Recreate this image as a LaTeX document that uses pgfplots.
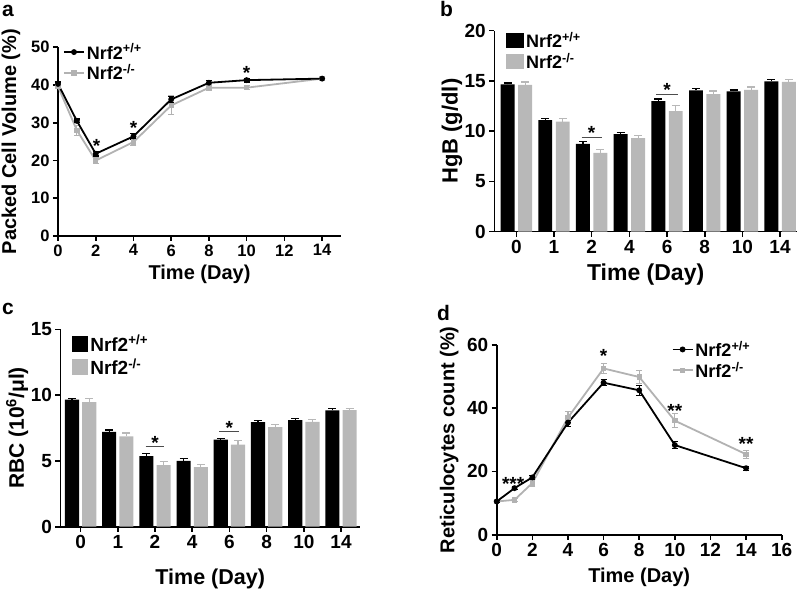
\documentclass[border=0pt]{standalone}
\usepackage{fontspec}
\setmainfont{Liberation Sans}
\usepackage{pgfplots}
\pgfplotsset{compat=1.18}
\definecolor{lgray}{RGB}{178,178,178}
\definecolor{bgray}{RGB}{184,184,184}
\newcommand{\fs}[1]{\fontsize{#1}{#1}\selectfont\bfseries}
\tikzset{star/.style={anchor=base, font=\fs{19}, inner sep=0pt}}
\pgfplotsset{
  gp/.style={
    scale only axis, anchor=south west, clip=false,
    axis x line=bottom, axis y line=left,
    axis line style={-, line width=1.6pt},
    tick align=outside, major tick length=5pt,
    tick style={line width=1.6pt, black},
    /pgf/number format/assume math mode=true,
    legend style={draw=none, fill=none, inner sep=0pt, outer sep=0pt, anchor=north west},
    legend cell align=left,
  },
  lineleg/.style={legend image code/.code={\draw[##1, mark repeat=2, mark phase=2] plot coordinates {(0pt,0pt) (10pt,0pt) (20pt,0pt)};}},
  barleg/.style={legend image code/.code={\fill[##1, draw=none] (0pt,-7.5pt) rectangle (18pt,7.5pt);}},
  blk/.style={black, line width=1.8pt, mark=*, mark size=2pt,
    error bars/.cd, y dir=both, y explicit, error bar style={line width=1.1pt, black},
    error mark options={rotate=90, line width=1.1pt, mark size=3pt, black}},
  gry/.style={lgray, line width=1.8pt, mark=square*, mark size=1.8pt,
    error bars/.cd, y dir=both, y explicit, error bar style={line width=1.1pt, lgray},
    error mark options={rotate=90, line width=1.1pt, mark size=3pt, lgray}},
  bblk/.style={fill=black, draw=none, bar shift=-0.232,
    error bars/.cd, y dir=plus, y explicit, error bar style={line width=1.1pt, black},
    error mark options={rotate=90, line width=1.1pt, mark size=4pt, black}},
  bgry/.style={fill=bgray, draw=none, bar shift=0.232,
    error bars/.cd, y dir=plus, y explicit, error bar style={line width=1.1pt, bgray},
    error mark options={rotate=90, line width=1.1pt, mark size=4pt, bgray}},
}
\begin{document}
\begin{tikzpicture}
\useasboundingbox (0,0) rectangle (800pt,592pt);
% panel letters
\node[anchor=base west, inner sep=0pt, font=\fs{21}] at (2pt,575.3pt) {a};
\node[anchor=base west, inner sep=0pt, font=\fs{21}] at (440pt,575pt) {b};
\node[anchor=base west, inner sep=0pt, font=\fs{21}] at (2pt,277.7pt) {c};
\node[anchor=base west, inner sep=0pt, font=\fs{21}] at (437pt,271pt) {d};

% ---------------- a ----------------
\begin{axis}[gp, at={(58pt,356pt)}, width=283pt, height=188.7pt,
  xmin=0, xmax=15, ymin=0, ymax=50,
  xtick={0,2,...,14}, ytick={0,10,...,50},
  ticklabel style={font=\fs{16.5}},
  xlabel={Time (Day)}, ylabel={Packed Cell Volume (\%)},
  label style={font=\fs{20}},
  xlabel style={at={(axis description cs:0.5,-0.201)}, anchor=center},
  ylabel style={at={(axis description cs:-0.166,0.5)}, anchor=center},
  lineleg, reverse legend,
  legend style={at={(axis description cs:0.018,1.03)}, font=\fs{18}, row sep=0pt},
]
\addplot[gry] coordinates {(0,39.6) +- (0,0.6) (1,28.0) +- (0,1.3) (2,20.0) +- (0,0.8) (4,24.9) +- (0,0.9) (6,34.6) +- (0,2.5) (8,39.3) +- (0,0.8) (10,39.3) +- (0,0.6) (14,41.7) +- (0,0.4)};
\addlegendentry{Nrf2\textsuperscript{-/-}}
\addplot[blk] coordinates {(0,40.3) +- (0,0.5) (1,30.5) +- (0,0.5) (2,21.8) +- (0,0.6) (4,26.4) +- (0,0.7) (6,36.2) +- (0,0.8) (8,40.6) +- (0,0.7) (10,41.3) +- (0,0.5) (14,41.7) +- (0,0.4)};
\addlegendentry{Nrf2\textsuperscript{+/+}}
\node[star] at (axis cs:2.05,22.2) {*};
\node[star] at (axis cs:4,26.9) {*};
\node[star] at (axis cs:10,41.4) {*};
\end{axis}

% ---------------- b ----------------
\begin{axis}[gp, ybar, at={(494.3pt,360.3pt)}, width=302.7pt, height=201pt,
  xmin=-0.585, xmax=7.45, ymin=0, ymax=20,
  bar width=0.37,
  xtick={0,...,7}, xticklabels={0,1,2,4,6,8,10,14}, ytick={0,5,...,20},
  ticklabel style={font=\fs{19}},
  xlabel={Time (Day)}, ylabel={HgB (g/dl)},
  xlabel style={font=\fs{23}, at={(axis description cs:0.5,-0.215)}, anchor=center},
  ylabel style={font=\fs{22}, at={(axis description cs:-0.14,0.5)}, anchor=center},
  barleg,
  legend style={at={(axis description cs:0.039,1.0035)}, font=\fs{18}, row sep=0pt},
]
\addplot[bblk] coordinates {(0,14.65) +- (0,0.15) (1,11.1) +- (0,0.2) (2,8.75) +- (0,0.25) (3,9.7) +- (0,0.2) (4,13.0) +- (0,0.2) (5,14.05) +- (0,0.2) (6,13.95) +- (0,0.15) (7,14.95) +- (0,0.2)};
\addlegendentry{Nrf2\textsuperscript{+/+}}
\addplot[bgry] coordinates {(0,14.6) +- (0,0.3) (1,10.95) +- (0,0.3) (2,7.85) +- (0,0.3) (3,9.3) +- (0,0.25) (4,12.0) +- (0,0.55) (5,13.7) +- (0,0.3) (6,14.1) +- (0,0.3) (7,14.9) +- (0,0.2)};
\addlegendentry{Nrf2\textsuperscript{-/-}}
\draw[line width=0.9pt, black!70] (axis cs:1.73,9.4) -- (axis cs:2.27,9.4);
\draw[line width=0.9pt, black!70] (axis cs:3.72,13.7) -- (axis cs:4.28,13.7);
\node[star] at (axis cs:2,9.2) {*};
\node[star] at (axis cs:4,13.5) {*};
\end{axis}

% ---------------- c ----------------
\begin{axis}[gp, ybar, at={(60.5pt,65.3pt)}, width=299.5pt, height=197.4pt,
  xmin=-0.54, xmax=7.51, ymin=0, ymax=15,
  bar width=0.38,
  xtick={0,...,7}, xticklabels={0,1,2,4,6,8,10,14}, ytick={0,5,...,15},
  ticklabel style={font=\fs{19}},
  xlabel={Time (Day)}, ylabel={RBC (10\textsuperscript{6}/μl)},
  xlabel style={font=\fs{21.5}, at={(axis description cs:0.5,-0.265)}, anchor=center},
  ylabel style={font=\fs{21}, at={(axis description cs:-0.145,0.5)}, anchor=center},
  legend image code/.code={\fill[#1, draw=none] (0pt,-8pt) rectangle (16.7pt,8pt);},
  legend style={at={(axis description cs:0.037,0.98)}, font=\fs{19}, row sep=2pt},
]
\addplot[bblk] coordinates {(0,9.65) +- (0,0.1) (1,7.2) +- (0,0.15) (2,5.37) +- (0,0.2) (3,5.0) +- (0,0.17) (4,6.62) +- (0,0.1) (5,7.94) +- (0,0.12) (6,8.09) +- (0,0.12) (7,8.83) +- (0,0.15)};
\addlegendentry{Nrf2\textsuperscript{+/+}}
\addplot[bgry] coordinates {(0,9.47) +- (0,0.25) (1,6.87) +- (0,0.25) (2,4.68) +- (0,0.25) (3,4.53) +- (0,0.2) (4,6.23) +- (0,0.3) (5,7.56) +- (0,0.2) (6,7.96) +- (0,0.18) (7,8.85) +- (0,0.1)};
\addlegendentry{Nrf2\textsuperscript{-/-}}
\draw[line width=0.9pt, black!70] (axis cs:1.75,6.1) -- (axis cs:2.25,6.1);
\draw[line width=0.9pt, black!70] (axis cs:3.73,7.23) -- (axis cs:4.27,7.23);
\node[star] at (axis cs:2,5.9) {*};
\node[star] at (axis cs:4,7.0) {*};
\end{axis}

% ---------------- d ----------------
\begin{axis}[gp, at={(496.7pt,57.3pt)}, width=285pt, height=190pt,
  xmin=0, xmax=16, ymin=0, ymax=60,
  xtick={0,2,...,16}, ytick={0,20,...,60},
  ticklabel style={font=\fs{19}},
  xlabel={Time (Day)}, ylabel={Reticulocytes count (\%)},
  label style={font=\fs{20}},
  xlabel style={at={(axis description cs:0.5,-0.223)}, anchor=center},
  ylabel style={at={(axis description cs:-0.167,0.5)}, anchor=center},
  lineleg, reverse legend,
  legend style={at={(axis description cs:0.614,1.03)}, font=\fs{18}, row sep=0pt},
]
\addplot[gry] coordinates {(0,10.5) +- (0,0.4) (1,11.0) +- (0,0.5) (2,16.3) +- (0,1.0) (4,37.0) +- (0,2.0) (6,52.5) +- (0,1.7) (8,49.8) +- (0,2.0) (10,36.0) +- (0,2.2) (14,25.4) +- (0,1.2)};
\addlegendentry{Nrf2\textsuperscript{-/-}}
\addplot[blk] coordinates {(0,10.5) +- (0,0.4) (1,14.7) +- (0,0.4) (2,18.1) +- (0,0.6) (4,35.4) +- (0,1.2) (6,48.0) +- (0,1.0) (8,45.6) +- (0,1.6) (10,28.3) +- (0,1.2) (14,21.0) +- (0,0.6)};
\addlegendentry{Nrf2\textsuperscript{+/+}}
\node[star] at (axis cs:0.92,14.0) {***};
\node[star] at (axis cs:6,54.3) {*};
\node[star] at (axis cs:10,37.1) {**};
\node[star] at (axis cs:14,26.5) {**};
\end{axis}
\end{tikzpicture}
\end{document}
